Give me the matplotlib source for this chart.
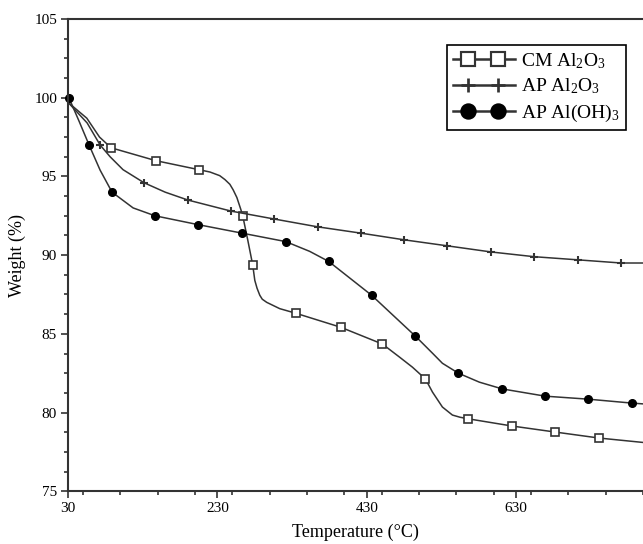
import matplotlib
matplotlib.use("Agg")
import matplotlib.pyplot as plt
from matplotlib.lines import Line2D
from matplotlib.legend_handler import HandlerBase
from matplotlib.ticker import MultipleLocator

# values (temperature in degC, weight in %)
cm_temp = [30, 55, 72, 87.5, 147.6, 205.1, 220, 233, 240, 246.6, 251, 256, 261.3, 264, 270.7,
           277.3, 280, 283, 286.7, 290, 296, 313.4, 334.8, 395, 451, 473.9, 491.2, 508.6, 518,
           531.3, 544.7, 555, 566, 625, 682.4, 741, 800]
cm_weight = [99.7, 98.7, 97.5, 96.82, 96.0, 95.43, 95.28, 95.05, 94.8, 94.5, 94.15, 93.66, 92.9,
             92.46, 90.93, 89.35, 88.4, 87.9, 87.45, 87.2, 87.0, 86.6, 86.31, 85.42, 84.35,
             83.52, 82.88, 82.13, 81.3, 80.35, 79.84, 79.7, 79.6, 79.14, 78.76, 78.38, 78.1]
cm_marks = [3, 4, 5, 13, 15, 22, 23, 24, 27, 32, 33, 34, 35]

ap_temp = [30, 55.4, 72.8, 86.2, 103.5, 131.6, 160, 190.4, 248, 305.4, 364, 421.7,
           480.5, 538, 596.8, 654.3, 713, 770.7, 800]
ap_weight = [99.7, 98.4, 97.0, 96.25, 95.43, 94.6, 94.0, 93.5, 92.8, 92.3, 91.8, 91.4,
             90.97, 90.59, 90.2, 89.9, 89.7, 89.5, 89.5]
ap_marks = [2, 5, 7, 8, 9, 10, 11, 12, 13, 14, 15, 16, 17]

oh_temp = [31, 44.7, 58, 72.8, 88.8, 117, 146.3, 203.8, 262.6, 321.5, 353.5, 379, 436.5,
           495.2, 518, 531.3, 552.7, 580.8, 611.5, 669, 726.5, 785, 800]
oh_weight = [100.0, 98.5, 97.0, 95.4, 94.0, 93.0, 92.5, 91.94, 91.4, 90.86, 90.24, 89.6, 87.45,
             84.85, 83.77, 83.13, 82.5, 81.93, 81.5, 81.04, 80.85, 80.6, 80.55]
oh_marks = [0, 2, 4, 6, 7, 8, 9, 11, 12, 13, 16, 18, 19, 20, 21]


class TwoMarkHandler(HandlerBase):
    # full-width line with two markers sitting inside it, like the original legend
    def __init__(self, ms):
        super().__init__()
        self.ms = ms

    def create_artists(self, legend, orig, xdescent, ydescent, width, height, fontsize, trans):
        y = (height - ydescent) / 2
        x0 = -xdescent
        line = Line2D([x0, x0 + width], [y, y], color=orig.get_color(), lw=1.8)
        marks = Line2D([x0 + 0.24 * width, x0 + 0.73 * width], [y, y], linestyle="none",
                       marker=orig.get_marker(), ms=self.ms,
                       mfc=orig.get_markerfacecolor(), mec=orig.get_markeredgecolor(),
                       mew=orig.get_markeredgewidth() * 1.3)
        line.set_transform(trans)
        marks.set_transform(trans)
        return [line, marks]


plt.rcParams["font.family"] = ["Liberation Serif", "DejaVu Serif"]
plt.rcParams["mathtext.default"] = "regular"

fig = plt.figure(figsize=(6.43, 5.44), dpi=100)
ax = fig.add_axes([0.106, 0.097, 0.894, 0.868])

LC = "#333333"
l1, = ax.plot(cm_temp, cm_weight, color=LC, lw=1.1, marker="s", markevery=cm_marks, ms=5.5,
              mfc="white", mec=LC, mew=1.2, label="CM Al$_2$O$_3$", clip_on=False)
l2, = ax.plot(ap_temp, ap_weight, color=LC, lw=1.1, marker="+", markevery=ap_marks, ms=6,
              mec=LC, mew=1.5, label="AP Al$_2$O$_3$", clip_on=False)
l3, = ax.plot(oh_temp, oh_weight, color=LC, lw=1.1, marker="o", markevery=oh_marks, ms=5.5,
              mfc="black", mec="black", label="AP Al(OH)$_3$", clip_on=False)

ax.set_xlim(30, 800)
ax.set_ylim(75, 105)
ax.set_xticks([30, 230, 430, 630])
ax.xaxis.set_minor_locator(MultipleLocator(50))
ax.set_yticks([75, 80, 85, 90, 95, 100, 105])
ax.yaxis.set_minor_locator(MultipleLocator(1.25))
ax.tick_params(which="both", direction="out", colors=LC, labelcolor="black", labelsize=11, width=1.2)
ax.tick_params(which="major", length=5, pad=3)
ax.tick_params(which="minor", length=3)

for side in ["left", "bottom", "top"]:
    ax.spines[side].set_color(LC)
    ax.spines[side].set_linewidth(1.5)
ax.spines["right"].set_visible(False)

ax.set_xlabel("Temperature (°C)", fontsize=13, labelpad=6)
ax.set_ylabel("Weight (%)", fontsize=13, labelpad=6)

leg = ax.legend(loc="upper right", bbox_to_anchor=(0.97, 0.945), borderaxespad=0,
                fontsize=14, frameon=True, fancybox=False, framealpha=1,
                edgecolor="black", handlelength=3.2, handletextpad=0.3,
                labelspacing=0.32, borderpad=0.3,
                handler_map={l1: TwoMarkHandler(9.5), l2: TwoMarkHandler(10.5),
                             l3: TwoMarkHandler(10.5)})
leg.get_frame().set_linewidth(1.2)

fig.savefig("out.png", dpi=100)
